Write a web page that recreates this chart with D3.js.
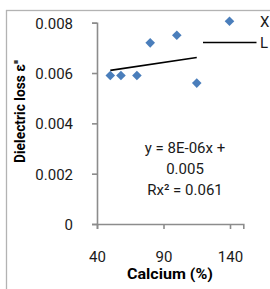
<!DOCTYPE html>
<html><head><meta charset="utf-8">
<script src="https://cdn.jsdelivr.net/npm/d3@7"></script>
<style>body{margin:0;background:#fff}svg{display:block}text{font-family:Roboto,sans-serif}</style>
</head><body>
<script>
const calcium = [50, 58, 70, 80, 100, 115];
const loss = [0.0059, 0.0059, 0.0059, 0.0072, 0.0075, 0.0056];
const xTicks = [40, 90, 140];
const yTicks = [0, 0.002, 0.004, 0.006, 0.008];
const yTickLabels = ["0", "0.002", "0.004", "0.006", "0.008"];
const legendLabels = ["X", "L"];
const eqLines = ["y = 8E-06x +", "0.005", "Rx\u00b2 = 0.061"];

const W = 270, H = 289;
const svg = d3.select("body").append("svg").attr("width", W).attr("height", H);
svg.append("rect").attr("x", 6.5).attr("y", 10.5).attr("width", 300).attr("height", 300)
  .attr("fill", "#fff").attr("stroke", "#b3b3b3").attr("stroke-width", 1.3);

const x = d3.scaleLinear().domain([40, 150]).range([97, 243.3]);
const y = d3.scaleLinear().domain([0, 0.008]).range([224, 22.7]);
const axisColor = "#8c8c8c";

const gy = svg.append("g").attr("transform", `translate(${x(40)},0)`)
  .call(d3.axisLeft(y).tickValues(yTicks).tickFormat((d, i) => yTickLabels[i]).tickSizeOuter(0).tickSize(5).tickPadding(19));
const gx = svg.append("g").attr("transform", `translate(0,${y(0)})`)
  .call(d3.axisBottom(x).tickValues(xTicks).tickSizeOuter(0).tickSize(5).tickPadding(22));
[gx, gy].forEach(g => {
  g.select(".domain").attr("stroke", axisColor).attr("stroke-width", 1.6);
  g.selectAll(".tick line").attr("stroke", axisColor).attr("stroke-width", 1.6);
  g.selectAll("text").attr("font-size", 15).attr("fill", "#1a1a1a").attr("font-family", "Roboto, sans-serif");
});
gy.selectAll("text").attr("dy", "0.36em");

// trend line (least squares)
const n = calcium.length;
const mx = d3.mean(calcium), my = d3.mean(loss);
let sxy = 0, sxx = 0;
for (let i = 0; i < n; i++) { sxy += (calcium[i] - mx) * (loss[i] - my); sxx += (calcium[i] - mx) ** 2; }
const slope = sxy / sxx, icpt = my - slope * mx;
const x0 = d3.min(calcium), x1 = d3.max(calcium);
svg.append("line").attr("x1", x(x0)).attr("y1", y(icpt + slope * x0))
  .attr("x2", x(x1)).attr("y2", y(icpt + slope * x1))
  .attr("stroke", "#000").attr("stroke-width", 1.6);

const diamond = d3.symbol().type(d3.symbolSquare).size(46);
svg.append("g").selectAll("path").data(calcium).join("path")
  .attr("d", diamond)
  .attr("transform", (d, i) => `translate(${x(d)},${y(loss[i])}) rotate(45)`)
  .attr("fill", "#4a7ebb");

// legend
svg.append("path").attr("d", diamond).attr("transform", "translate(229.5,21.3) rotate(45)").attr("fill", "#4a7ebb");
svg.append("line").attr("x1", 203).attr("x2", 256.5).attr("y1", 42.5).attr("y2", 42.5).attr("stroke", "#000").attr("stroke-width", 1.6);
svg.selectAll(".leg").data(legendLabels).join("text").attr("class", "leg")
  .attr("x", 260).attr("y", (d, i) => 26.5 + i * 21.3).attr("font-size", 15).attr("fill", "#1a1a1a").text(d => d);

// equation
svg.selectAll(".eq").data(eqLines).join("text").attr("class", "eq")
  .attr("x", 185).attr("y", (d, i) => 152.7 + i * 21.2).attr("text-anchor", "middle")
  .attr("font-size", 15).attr("fill", "#1a1a1a").text(d => d);

// axis titles
svg.append("text").attr("x", 170).attr("y", 278.5).attr("text-anchor", "middle")
  .attr("font-size", 14).attr("font-weight", "bold").attr("fill", "#000")
  .attr("textLength", 86).attr("lengthAdjust", "spacingAndGlyphs").text("Calcium (%)");
svg.append("text").attr("transform", "translate(25,111.5) rotate(-90)").attr("text-anchor", "middle")
  .attr("font-size", 14).attr("font-weight", "bold").attr("fill", "#000")
  .attr("textLength", 103).attr("lengthAdjust", "spacingAndGlyphs").text("Dielectric loss \u03b5''");
</script>
</body></html>
